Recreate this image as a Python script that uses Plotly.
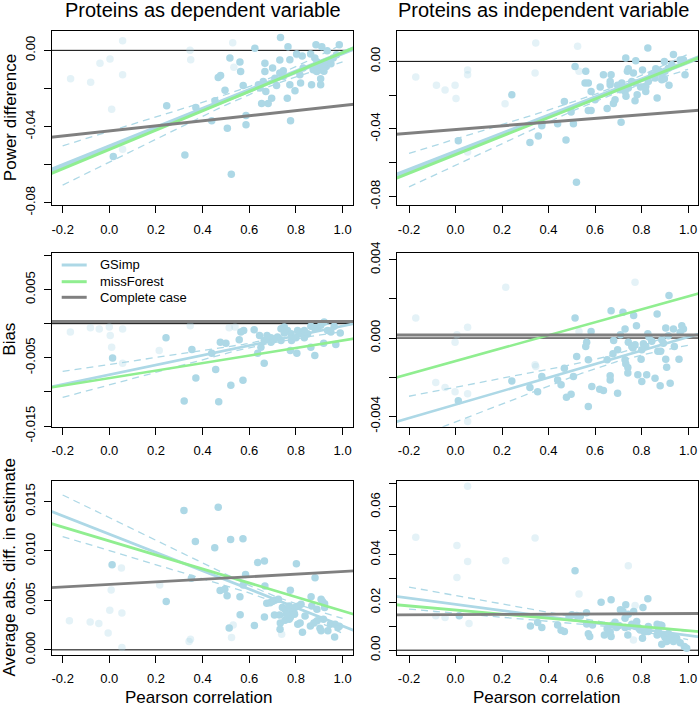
import numpy as np
import plotly.graph_objects as go

FONT = "Liberation Sans, Arial, sans-serif"
W, H = 700, 707

col_titles = ["Proteins as dependent variable", "Proteins as independent variable"]
row_titles = ["Power difference", "Bias", "Average abs. diff. in estimate"]
x_title = "Pearson correlation"
legend_names = ["GSimp", "missForest", "Complete case"]

x_tickvals = [-0.2, 0.0, 0.2, 0.4, 0.6, 0.8, 1.0]
x_ticktext = ["-0.2", "0.0", "0.2", "0.4", "0.6", "0.8", "1.0"]

y_tickvals = [
    [0.0, -0.02, -0.04, -0.06, -0.08],
    [0.0, -0.02, -0.04, -0.06, -0.08],
    [0.010, 0.005, 0.0, -0.005, -0.010, -0.015],
    [0.004, 0.002, 0.0, -0.002, -0.004],
    [0.015, 0.010, 0.005, 0.0],
    [0.0, 0.01, 0.02, 0.03, 0.04, 0.05, 0.06, 0.07],
]
y_ticktext = [
    ["0.00", "", "-0.04", "", "-0.08"],
    ["0.00", "", "-0.04", "", "-0.08"],
    ["", "0.005", "", "-0.005", "", "-0.015"],
    ["0.004", "", "0.000", "", "-0.004"],
    ["0.015", "0.010", "0.005", "0.000"],
    ["0.00", "", "0.02", "", "0.04", "", "0.06", ""],
]

# ---------------- points (Pearson correlation, value) ----------------
# Power difference, proteins as dependent variable
pd_faded = [(-0.166, -0.0149), (-0.080, -0.0168), (-0.040, -0.0068), (0.003, -0.0046), (0.057, 0.0051),
            (0.057, -0.0128), (0.010, -0.0309), (0.057, -0.0519), (0.346, 0.0), (0.349, -0.0049),
            (0.529, 0.0040), (0.534, -0.0089), (0.803, -0.0023)]
pd_solid = [(0.734, 0.0068), (0.624, 0.0011), (0.766, 0.0019), (0.886, 0.0030), (0.911, 0.0019), (0.986, 0.0030),
            (0.934, -0.0002), (0.517, -0.0040), (0.560, -0.0061), (0.563, -0.0111), (0.667, -0.0068),
            (0.667, -0.0111), (0.700, -0.0093), (0.731, -0.0051), (0.774, -0.0049), (0.803, -0.0019),
            (0.827, -0.0030), (0.863, -0.0019), (0.881, -0.0040), (0.900, -0.0075), (0.874, -0.0102),
            (0.906, -0.0102), (0.917, -0.0079), (0.931, -0.0058), (0.960, -0.0040), (0.974, -0.0023),
            (0.874, -0.0089), (0.889, -0.0111), (0.467, -0.0142), (0.477, -0.0132), (0.574, -0.0184),
            (0.639, -0.0181), (0.660, -0.0163), (0.671, -0.0216), (0.710, -0.0146), (0.717, -0.0184),
            (0.731, -0.0119), (0.746, -0.0107), (0.774, -0.0181), (0.796, -0.0212), (0.820, -0.0172),
            (0.817, -0.0128), (0.867, -0.0181), (0.906, -0.0181), (0.906, -0.0149), (0.763, -0.0251),
            (0.696, -0.0251), (0.653, -0.0279), (0.681, -0.0279), (0.496, -0.0209), (0.453, -0.0265),
            (0.246, -0.0291), (0.371, -0.0300), (0.439, -0.0370), (0.506, -0.0409), (0.586, -0.0342),
            (0.586, -0.0391), (0.777, -0.0370), (0.324, -0.0549), (0.017, -0.0558), (0.523, -0.0651),
            (0.746, -0.0137), (0.646, -0.0198), (0.831, -0.0093), (0.930, -0.0085), (0.950, -0.0070),
            (0.890, -0.0060), (0.920, -0.0110)]

# Power difference, proteins as independent variable
pi_faded = [(-0.171, -0.0093), (-0.082, -0.0142), (-0.045, -0.0170), (-0.002, -0.0142), (0.002, -0.0219),
            (0.052, -0.0051), (0.052, -0.0079), (0.213, -0.0251), (0.345, 0.0109), (0.342, -0.0069),
            (0.525, 0.0089), (0.531, -0.0059), (0.052, -0.0537)]
pi_solid = [(0.827, 0.0079), (0.937, 0.0040), (0.732, 0.0020), (0.775, 0.0004), (0.898, 0.0), (0.966, 0.0008),
            (0.980, 0.0010), (0.514, -0.0030), (0.560, -0.0059), (0.636, -0.0079), (0.669, -0.0079),
            (0.739, -0.0059), (0.743, -0.0043), (0.765, -0.0069), (0.804, -0.0051), (0.861, -0.0043),
            (0.875, -0.0055), (0.887, -0.0079), (0.898, -0.0103), (0.915, -0.0040), (0.930, -0.0020),
            (0.987, -0.0079), (0.557, -0.0128), (0.571, -0.0128), (0.583, -0.0178), (0.622, -0.0152),
            (0.665, -0.0119), (0.665, -0.0138), (0.697, -0.0142), (0.708, -0.0168), (0.729, -0.0178),
            (0.733, -0.0207), (0.758, -0.0119), (0.772, -0.0128), (0.781, -0.0198), (0.772, -0.0233),
            (0.796, -0.0152), (0.818, -0.0178), (0.818, -0.0148), (0.867, -0.0217), (0.918, -0.0142),
            (0.887, -0.0109), (0.901, -0.0059), (0.686, -0.0227), (0.679, -0.0249), (0.652, -0.0279),
            (0.571, -0.0290), (0.583, -0.0290), (0.468, -0.0237), (0.497, -0.0300), (0.242, -0.0198),
            (0.371, -0.0381), (0.439, -0.0369), (0.507, -0.0369), (0.712, -0.0360), (0.356, -0.0441),
            (0.320, -0.0480), (0.475, -0.0466), (0.012, -0.0470), (0.520, -0.0715), (0.600, -0.0227),
            (0.844, -0.0079), (0.829, -0.0119), (0.743, -0.0158), (0.715, -0.0128), (0.858, -0.0099)]

# Bias, proteins as dependent variable
bd_faded = [(-0.167, -0.00123), (-0.081, -0.00059), (-0.043, -0.00079), (0.000, -0.00049), (0.057, -0.00079),
            (0.004, -0.00172), (0.010, -0.00345), (0.057, -0.00581), (0.214, -0.00394), (0.347, -0.00030),
            (0.514, -0.00059), (0.539, -0.00049)]
bd_solid = [(0.243, -0.00207), (0.014, -0.00502), (0.354, -0.00379), (0.371, -0.00798), (0.321, -0.01133),
            (0.469, -0.01143), (0.521, -0.00901), (0.573, -0.00828), (0.456, -0.00670), (0.476, -0.00271),
            (0.500, -0.00286), (0.439, -0.00433), (0.557, -0.00236), (0.564, -0.00123), (0.576, -0.00099),
            (0.621, -0.00089), (0.636, -0.00433), (0.664, -0.00581), (0.664, -0.00246), (0.676, -0.00172),
            (0.693, -0.00207), (0.704, -0.00236), (0.721, -0.00197), (0.736, -0.00074), (0.750, -0.00138),
            (0.764, -0.00099), (0.779, -0.00148), (0.776, -0.00394), (0.804, -0.00433), (0.781, -0.00246),
            (0.800, -0.00207), (0.807, -0.00099), (0.836, -0.00099), (0.850, -0.00148), (0.864, -0.00039),
            (0.879, -0.00059), (0.893, -0.00059), (0.907, -0.00025), (0.921, 0.00025), (0.936, -0.00099),
            (0.950, -0.00123), (0.964, -0.00039), (0.971, -0.00305), (0.990, -0.00138), (0.864, -0.00345),
            (0.881, -0.00468), (0.919, -0.00286), (0.644, -0.00172), (0.736, -0.00246), (0.693, -0.00271),
            (0.750, -0.00049), (0.814, -0.00148), (0.836, -0.00207), (0.650, -0.00345)]

# Bias, proteins as independent variable
bi_faded = [(-0.171, 0.00103), (-0.085, -0.00227), (-0.045, -0.00253), (-0.002, -0.00274), (0.006, 0.00017),
            (-0.002, -0.00022), (0.052, 0.00055), (0.052, -0.00285), (0.052, -0.00427), (0.216, 0.00260),
            (0.342, -0.00137), (0.345, -0.00145), (0.531, 0.00034), (0.772, 0.00285)]
bi_solid = [(0.012, -0.00320), (0.242, -0.00219), (0.320, -0.00253), (0.353, -0.00274), (0.371, -0.00197),
            (0.439, -0.00214), (0.454, -0.00239), (0.468, -0.00154), (0.477, -0.00303), (0.497, -0.00287),
            (0.507, -0.00197), (0.521, -0.00094), (0.514, 0.00103), (0.560, -0.00043), (0.564, -0.00022),
            (0.571, -0.00111), (0.583, 0.00034), (0.571, -0.00350), (0.586, -0.00248), (0.620, -0.00262),
            (0.636, -0.00268), (0.665, -0.00193), (0.665, -0.00214), (0.652, -0.00111), (0.669, 0.00140),
            (0.677, -0.00080), (0.680, -0.00012), (0.697, -0.00060), (0.697, -0.00282), (0.709, 0.00017),
            (0.720, 0.00132), (0.729, 0.00046), (0.729, -0.00111), (0.732, -0.00132), (0.741, -0.00150),
            (0.741, -0.00179), (0.743, -0.00022), (0.758, -0.00043), (0.763, -0.00051), (0.766, 0.00115),
            (0.778, 0.00063), (0.772, -0.00034), (0.784, -0.00188), (0.801, -0.00060), (0.798, -0.00108),
            (0.801, -0.00222), (0.808, -0.00029), (0.818, -0.00043), (0.822, -0.00188), (0.827, 0.00022),
            (0.858, -0.00205), (0.867, 0.00123), (0.870, -0.00068), (0.880, -0.00244), (0.882, -0.00068),
            (0.887, -0.00009), (0.894, -0.00026), (0.904, 0.00051), (0.904, -0.00108), (0.908, -0.00149),
            (0.915, 0.00012), (0.923, -0.00231), (0.937, 0.00046), (0.941, -0.00043), (0.961, -0.00108),
            (0.966, 0.00029), (0.973, 0.00063), (0.980, 0.00046), (0.918, 0.00217), (0.832, 0.00005),
            (0.844, -0.00017)]

# Average abs. diff. in estimate, proteins as dependent variable
ad_faded = [(-0.171, 0.00293), (-0.082, 0.00282), (-0.045, 0.00266), (-0.005, 0.00171), (0.002, 0.00400),
            (0.008, 0.00605), (0.052, 0.00827), (0.054, 0.00373), (0.054, 0.00024), (0.216, 0.00656),
            (0.342, 0.00084), (0.348, 0.00108), (0.531, 0.00252), (0.524, 0.00124), (0.739, 0.00158)]
ad_solid = [(0.012, 0.00861), (0.244, 0.00488), (0.320, 0.01409), (0.467, 0.01442), (0.369, 0.01096),
            (0.452, 0.01032), (0.520, 0.01116), (0.573, 0.01123), (0.636, 0.00884), (0.665, 0.00898),
            (0.802, 0.00871), (0.882, 0.00730), (0.352, 0.00723), (0.475, 0.00599), (0.495, 0.00612),
            (0.505, 0.00548), (0.560, 0.00538), (0.584, 0.00763), (0.561, 0.00356), (0.514, 0.00222),
            (0.622, 0.00245), (0.665, 0.00333), (0.574, 0.00656), (0.667, 0.00646), (0.675, 0.00471),
            (0.689, 0.00477), (0.699, 0.00488), (0.710, 0.00501), (0.725, 0.00511), (0.742, 0.00427),
            (0.753, 0.00410), (0.776, 0.00602), (0.771, 0.00444), (0.782, 0.00393), (0.796, 0.00427),
            (0.811, 0.00444), (0.822, 0.00461), (0.865, 0.00538), (0.908, 0.00511), (0.914, 0.00488),
            (0.923, 0.00467), (0.923, 0.00427), (0.708, 0.00353), (0.730, 0.00353), (0.733, 0.00272),
            (0.732, 0.00208), (0.753, 0.00299), (0.771, 0.00309), (0.776, 0.00326), (0.794, 0.00360),
            (0.808, 0.00259), (0.818, 0.00272), (0.828, 0.00178), (0.862, 0.00242), (0.877, 0.00272),
            (0.891, 0.00293), (0.903, 0.00219), (0.908, 0.00192), (0.918, 0.00309), (0.937, 0.00192),
            (0.948, 0.00259), (0.968, 0.00259), (0.966, 0.00131), (0.980, 0.00225), (0.986, 0.00239),
            (0.890, 0.00410), (0.868, 0.00444), (0.839, 0.00343), (0.759, 0.00360)]

# Average abs. diff. in estimate, proteins as independent variable
ai_faded = [(-0.171, 0.0473), (-0.085, 0.0144), (-0.045, 0.0137), (0.006, 0.0439), (0.006, 0.0305),
            (0.052, 0.0372), (0.058, 0.0112), (0.052, 0.0687), (0.216, 0.0375), (0.342, 0.0470),
            (0.531, 0.0235), (0.743, 0.0354), (0.765, 0.0043), (0.772, 0.0187)]
ai_solid = [(0.016, 0.0144), (0.514, 0.0333), (0.322, 0.0101), (0.353, 0.0116), (0.371, 0.0095),
            (0.439, 0.0106), (0.454, 0.0084), (0.468, 0.0078), (0.488, 0.0137), (0.500, 0.0148),
            (0.521, 0.0145), (0.537, 0.0143), (0.563, 0.0157), (0.564, 0.0110), (0.571, 0.0069),
            (0.577, 0.0057), (0.589, 0.0106), (0.626, 0.0201), (0.640, 0.0064), (0.652, 0.0090),
            (0.665, 0.0076), (0.669, 0.0057), (0.669, 0.0211), (0.675, 0.0106), (0.686, 0.0117),
            (0.692, 0.0095), (0.703, 0.0103), (0.709, 0.0169), (0.720, 0.0162), (0.732, 0.0190),
            (0.729, 0.0134), (0.729, 0.0095), (0.741, 0.0064), (0.743, 0.0151), (0.758, 0.0109),
            (0.766, 0.0162), (0.775, 0.0099), (0.786, 0.0095), (0.794, 0.0085), (0.804, 0.0050),
            (0.806, 0.0179), (0.812, 0.0076), (0.827, 0.0215), (0.829, 0.0099), (0.867, 0.0109),
            (0.872, 0.0095), (0.881, 0.0106), (0.887, 0.0103), (0.895, 0.0064), (0.901, 0.0053),
            (0.908, 0.0036), (0.915, 0.0070), (0.923, 0.0048), (0.930, 0.0057), (0.937, 0.0036),
            (0.951, 0.0050), (0.966, 0.0031), (0.984, 0.0015), (0.994, 0.0008), (0.867, 0.0064),
            (0.887, 0.0025), (0.829, 0.0078), (0.779, 0.0120), (0.872, 0.0076)]

# ---------------- fitted lines (intercept, slope) per panel ----------------
gsimp_intercept = [-0.0506, -0.0537, -0.00748, -0.00340, 0.01170, 0.01922]
gsimp_slope = [0.0492, 0.0535, 0.00714, 0.00345, -0.00928, -0.01305]
missforest_intercept = [-0.0520, -0.0552, -0.00798, -0.00118, 0.01101, 0.01684]
missforest_slope = [0.0508, 0.0548, 0.00551, 0.00331, -0.00708, -0.00863]
complete_intercept = [-0.0423, -0.0403, 0.0003, 0.00015, 0.00661, 0.01494]
complete_slope = [0.0133, 0.0109, 0.0, 0.0, 0.0013, 0.00042]
# GSimp confidence band: centre of x, half-width at centre, growth with distance
ci_xcenter = [0.65, 0.65, 0.65, 0.70, 0.70, 0.70]
ci_halfwidth = [0.0020, 0.0020, 0.0003, 0.0002, 0.0003, 0.0008]
ci_growth = [0.0119, 0.0114, 0.00221, 0.00122, 0.00231, 0.00503]
ci_xlimits = [-0.2, 1.0]

panels_solid = [pd_solid, pi_solid, bd_solid, bi_solid, ad_solid, ai_solid]
panels_faded = [pd_faded, pi_faded, bd_faded, bi_faded, ad_faded, ai_faded]

# ---------------- layout geometry (pixels) ----------------
col_px = [(51.7, 353.3), (396.7, 698.3)]
row_px = [(31.3, 205.0), (252.7, 426.7), (480.7, 654.5)]
x_ranges = [[-0.247, 1.046], [-0.253, 1.044]]
y_ranges = [[-0.0812, 0.0100], [-0.085, 0.0178], [-0.0151, 0.0104],
            [-0.00453, 0.00436], [-0.00047, 0.0171], [-0.0018, 0.0710]]

C_GS = "#ADD8E6"
C_MF = "#90EE90"
C_CC = "#808080"
line_colors = [C_GS, C_MF, C_CC]
gs_width = [4.5, 4.5, 2.6, 2.6, 2.8, 2.8]
mf_width = [3.0, 3.0, 2.6, 2.6, 2.8, 2.8]
cc_width = [3.0, 3.0, 3.0, 3.0, 2.8, 2.8]

fig = go.Figure()
layout = {}
line_x = np.array([-0.4, 1.2])

for k in range(6):
    r, c = divmod(k, 2)
    sfx = "" if k == 0 else str(k + 1)
    xa, ya = "x" + sfx, "y" + sfx
    tick_font = dict(size=13, family=FONT, color="black")
    layout["xaxis" + sfx] = dict(
        domain=[col_px[c][0] / W, col_px[c][1] / W], range=x_ranges[c], anchor=ya,
        tickvals=x_tickvals, ticktext=x_ticktext, ticks="outside", ticklen=7, tickwidth=1,
        tickcolor="black", showline=True, linecolor="black", linewidth=1, mirror=True,
        showgrid=False, zeroline=False, tickfont=tick_font, ticklabelstandoff=5, automargin=False)
    layout["yaxis" + sfx] = dict(
        domain=[1 - row_px[r][1] / H, 1 - row_px[r][0] / H], range=y_ranges[k], anchor=xa,
        tickvals=y_tickvals[k], ticktext=y_ticktext[k], tickangle=-90, ticks="outside", ticklen=7,
        tickwidth=1, tickcolor="black", showline=True, linecolor="black", linewidth=1, mirror=True,
        showgrid=False, zeroline=False, tickfont=tick_font, ticklabelstandoff=4, automargin=False)

    fx = [p[0] for p in panels_faded[k]]
    fy = [p[1] for p in panels_faded[k]]
    sx = [p[0] for p in panels_solid[k]]
    sy = [p[1] for p in panels_solid[k]]
    fig.add_trace(go.Scatter(x=fx, y=fy, mode="markers", xaxis=xa, yaxis=ya, showlegend=False,
                             marker=dict(size=7.5, color=C_GS, opacity=0.33, line=dict(width=0)),
                             hoverinfo="skip"))
    fig.add_trace(go.Scatter(x=sx, y=sy, mode="markers", xaxis=xa, yaxis=ya, showlegend=False,
                             marker=dict(size=7.5, color=C_GS, line=dict(width=0)), hoverinfo="skip"))

    # horizontal reference at zero
    fig.add_shape(type="line", xref=xa + " domain", yref=ya, x0=0, x1=1, y0=0, y1=0,
                  line=dict(color="black", width=1), layer="below")

    # GSimp confidence band
    cx = np.linspace(ci_xlimits[0], ci_xlimits[1], 80)
    fit = gsimp_intercept[k] + gsimp_slope[k] * cx
    hw = np.sqrt(ci_halfwidth[k] ** 2 + (ci_growth[k] * (cx - ci_xcenter[k])) ** 2)
    for sgn in (1, -1):
        fig.add_trace(go.Scatter(x=cx, y=fit + sgn * hw, mode="lines", xaxis=xa, yaxis=ya,
                                 showlegend=False, hoverinfo="skip",
                                 line=dict(color=C_GS, width=1.3, dash="7px,5px")))

    fig.add_trace(go.Scatter(x=line_x, y=gsimp_intercept[k] + gsimp_slope[k] * line_x, mode="lines",
                             xaxis=xa, yaxis=ya, name=legend_names[0], showlegend=False,
                             line=dict(color=C_GS, width=gs_width[k])))
    fig.add_trace(go.Scatter(x=line_x, y=missforest_intercept[k] + missforest_slope[k] * line_x,
                             mode="lines", xaxis=xa, yaxis=ya, name=legend_names[1], showlegend=False,
                             line=dict(color=C_MF, width=mf_width[k])))
    fig.add_trace(go.Scatter(x=line_x, y=complete_intercept[k] + complete_slope[k] * line_x,
                             mode="lines", xaxis=xa, yaxis=ya, name=legend_names[2], showlegend=False,
                             line=dict(color=C_CC, width=cc_width[k])))

annotations = []
title_x = [203.4, 543.0]
for c in range(2):
    annotations.append(dict(text=col_titles[c], x=title_x[c] / W, y=1 - 10 / H, xref="paper", yref="paper",
                            showarrow=False, xanchor="center", yanchor="middle",
                            font=dict(size=20, family=FONT, color="black")))
    annotations.append(dict(text=x_title, x=[198.0, 546.0][c] / W, y=1 - 697 / H, xref="paper",
                            yref="paper", showarrow=False, xanchor="center", yanchor="middle",
                            font=dict(size=17, family=FONT, color="black")))
for r in range(3):
    annotations.append(dict(text=row_titles[r], x=10 / W, y=1 - (row_px[r][0] + row_px[r][1]) / 2 / H,
                            xref="paper", yref="paper", showarrow=False, textangle=-90,
                            xanchor="center", yanchor="middle",
                            font=dict(size=17, family=FONT, color="black")))

# legend drawn inside the Bias (dependent) panel, as in the original
legend_y_px = [265.0, 281.7, 297.3]
legend_line_px = (61.7, 86.7)
legend_text_px = 97.7
shapes = []
for i, name in enumerate(legend_names):
    yy = 1 - legend_y_px[i] / H
    shapes.append(dict(type="line", xref="paper", yref="paper", x0=legend_line_px[0] / W,
                       x1=legend_line_px[1] / W, y0=yy, y1=yy,
                       line=dict(color=line_colors[i], width=3)))
    annotations.append(dict(text=name, x=legend_text_px / W, y=yy, xref="paper", yref="paper",
                            showarrow=False, xanchor="left", yanchor="middle",
                            font=dict(size=13, family=FONT, color="black")))

fig.update_layout(
    width=W, height=H, margin=dict(l=0, r=0, t=0, b=0, autoexpand=False),
    paper_bgcolor="white", plot_bgcolor="white",
    font=dict(family=FONT, color="black"),
    showlegend=False,
    annotations=annotations,
    **layout,
)
for s in shapes:
    fig.add_shape(**s)

fig.write_html("out.html", config={"displayModeBar": False},
               post_script="document.body.style.margin='0';document.body.style.overflow='hidden';")
